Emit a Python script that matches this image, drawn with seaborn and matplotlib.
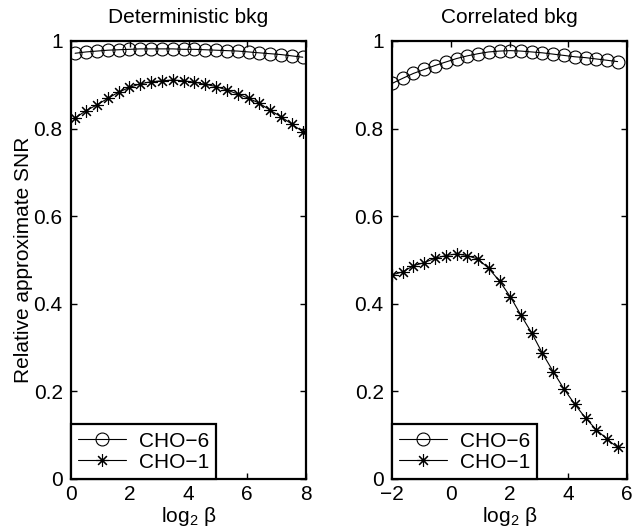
import numpy as np
import pandas as pd
import seaborn as sns
import matplotlib.pyplot as plt

# values
x_det = [0.14, 0.51, 0.88, 1.25, 1.62, 1.99, 2.35, 2.72, 3.09, 3.46, 3.83,
         4.20, 4.57, 4.94, 5.31, 5.68, 6.05, 6.41, 6.78, 7.15, 7.52, 7.89]
cho6_det = [0.972, 0.975, 0.977, 0.979, 0.980, 0.981, 0.982, 0.982, 0.982, 0.982, 0.981,
            0.981, 0.980, 0.979, 0.978, 0.977, 0.975, 0.973, 0.971, 0.969, 0.966, 0.963]
cho1_det = [0.824, 0.841, 0.854, 0.869, 0.883, 0.894, 0.902, 0.907, 0.909, 0.911, 0.909,
            0.906, 0.901, 0.896, 0.888, 0.879, 0.869, 0.858, 0.842, 0.827, 0.810, 0.793]

x_cor = [-2.00, -1.63, -1.27, -0.90, -0.54, -0.17, 0.20, 0.56, 0.93, 1.29, 1.66,
         2.03, 2.39, 2.76, 3.12, 3.49, 3.86, 4.22, 4.59, 4.95, 5.32, 5.68]
cho6_cor = [0.903, 0.915, 0.926, 0.935, 0.944, 0.952, 0.960, 0.966, 0.971, 0.975, 0.977,
            0.978, 0.977, 0.975, 0.973, 0.970, 0.967, 0.964, 0.962, 0.959, 0.956, 0.953]
cho1_cor = [0.466, 0.473, 0.487, 0.494, 0.504, 0.510, 0.514, 0.510, 0.502, 0.481, 0.452,
            0.416, 0.374, 0.333, 0.287, 0.245, 0.205, 0.171, 0.139, 0.113, 0.091, 0.072]

titles = ['Deterministic bkg', 'Correlated bkg']
labels = ['CHO\u22126', 'CHO\u22121']

sns.set_style('ticks')
plt.rcParams['font.family'] = ['Liberation Sans', 'DejaVu Sans']
plt.rcParams['mathtext.fontset'] = 'custom'
plt.rcParams['mathtext.rm'] = 'Liberation Sans'
plt.rcParams['mathtext.it'] = 'Liberation Sans'
for k in ['text.color', 'axes.labelcolor', 'xtick.color', 'ytick.color']:
    plt.rcParams[k] = 'black'
FS = 15

fig = plt.figure(figsize=(6.32, 5.31), dpi=100)
ax1 = fig.add_axes([71/632, 1 - 479/531, 235/632, 438/531])
ax2 = fig.add_axes([392/632, 1 - 479/531, 235/632, 438/531])

panels = [(ax1, x_det, cho6_det, cho1_det, (0, 8), [0, 2, 4, 6, 8]),
          (ax2, x_cor, cho6_cor, cho1_cor, (-2, 6), [-2, 0, 2, 4, 6])]

for i, (ax, x, c6, c1, xl, xt) in enumerate(panels):
    df = pd.DataFrame({'x': x, 'cho6': c6, 'cho1': c1})
    sns.lineplot(data=df, x='x', y='cho6', ax=ax, color='black', lw=0.8,
                 marker='o', ms=9.3, markerfacecolor='none',
                 markeredgecolor='black', markeredgewidth=0.8, label=labels[0])
    sns.lineplot(data=df, x='x', y='cho1', ax=ax, color='black', lw=0.8,
                 marker=(8, 2, 0), ms=9, markeredgecolor='black',
                 markeredgewidth=0.8, label=labels[1])
    ax.set_xlim(*xl)
    ax.set_ylim(0, 1)
    ax.set_xticks(xt)
    ax.set_yticks([0, 0.2, 0.4, 0.6, 0.8, 1])
    ax.set_yticklabels(['0', '0.2', '0.4', '0.6', '0.8', '1'])
    ax.tick_params(axis='both', direction='in', length=4, width=1,
                   top=True, right=True, labelsize=FS, color='black',
                   labelcolor='black')
    ax.tick_params(axis='x', pad=4)
    ax.tick_params(axis='y', pad=6)
    for s in ax.spines.values():
        s.set_linewidth(1.6)
        s.set_color('black')
        s.set_visible(True)
    ax.set_title(titles[i], fontsize=FS, pad=13, color='black')
    ax.set_xlabel(r'log$_2$ β', fontsize=FS, labelpad=1)
    ax.set_ylabel('')
    leg = ax.legend(loc='lower left', bbox_to_anchor=(0, 0), borderaxespad=0,
                    fontsize=FS, fancybox=False, edgecolor='black', framealpha=1,
                    borderpad=0.35, handlelength=2.3, handletextpad=0.6,
                    labelspacing=0.1)
    leg.get_frame().set_linewidth(1.6)
    for t in leg.get_texts():
        t.set_color('black')

ax1.set_ylabel('Relative approximate SNR', fontsize=FS, labelpad=0.5)

fig.savefig('out.png', dpi=100)
